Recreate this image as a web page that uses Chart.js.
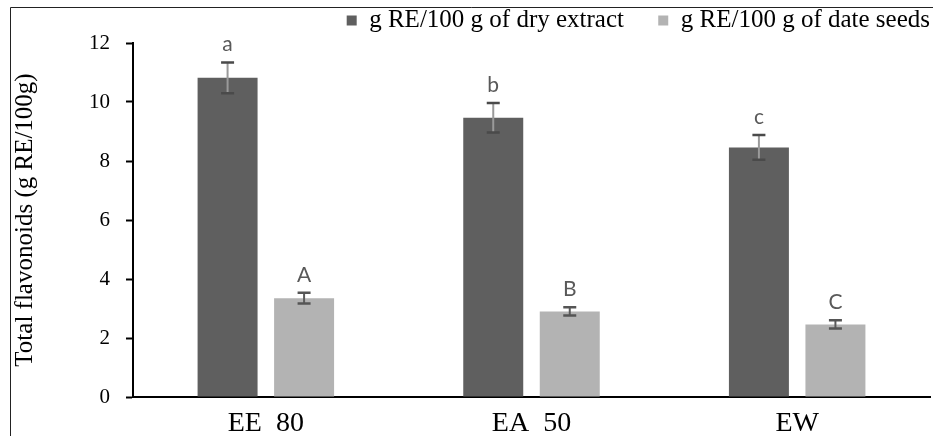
<!DOCTYPE html>
<html>
<head>
<meta charset="utf-8">
<script src="https://cdn.jsdelivr.net/npm/chart.js@4.4.1/dist/chart.umd.min.js"></script>
<style>
  html, body { margin: 0; padding: 0; background: #fff; }
  #wrap { width: 933px; height: 436px; position: relative; }
</style>
</head>
<body>
<div id="wrap"><canvas id="c" width="933" height="436"></canvas></div>
<script>
const categories = ['EE  80', 'EA  50', 'EW'];
const seriesNames = ['g RE/100 g of dry extract', 'g RE/100 g of date seeds'];
const dryExtract = [10.82, 9.47, 8.46];
const dateSeeds = [3.35, 2.90, 2.46];
const dryExtractErr = [0.52, 0.50, 0.42];
const dateSeedsErr = [0.18, 0.14, 0.14];
const dryExtractLetters = ['a', 'b', 'c'];
const dateSeedsLetters = ['A', 'B', 'C'];
const yTicks = [0, 2, 4, 6, 8, 10, 12];
const yTitle = 'Total flavonoids (g RE/100g)';

const errors = [dryExtractErr, dateSeedsErr];
const letters = [dryExtractLetters, dateSeedsLetters];
const SERIF = '"Liberation Serif", "Times New Roman", serif';

const framePlugin = {
  id: 'frame',
  beforeDraw(chart) {
    const ctx = chart.ctx;
    ctx.save();
    ctx.fillStyle = '#fff';
    ctx.fillRect(0, 0, chart.width, chart.height);
    ctx.strokeStyle = '#222';
    ctx.lineWidth = 1;
    ctx.beginPath();
    ctx.moveTo(10.5, chart.height);
    ctx.lineTo(10.5, 7.5);
    ctx.lineTo(chart.width, 7.5);
    ctx.stroke();
    ctx.restore();
  }
};

const errorPlugin = {
  id: 'errbars',
  afterDatasetsDraw(chart) {
    const ctx = chart.ctx;
    const ys = chart.scales.y;
    ctx.save();
    chart.data.datasets.forEach((ds, di) => {
      const meta = chart.getDatasetMeta(di);
      meta.data.forEach((bar, i) => {
        const v = ds.data[i];
        const e = errors[di][i];
        const x = bar.x;
        const yt = ys.getPixelForValue(v + e);
        const yb = ys.getPixelForValue(v - e);
        ctx.strokeStyle = di === 0 ? '#9a9a9a' : '#5a5a5a';
        ctx.lineWidth = 2;
        ctx.beginPath();
        ctx.moveTo(x, yt);
        ctx.lineTo(x, yb);
        ctx.stroke();
        ctx.strokeStyle = di === 0 ? '#4a4a4a' : '#555555';
        ctx.lineWidth = 2.5;
        ctx.beginPath();
        ctx.moveTo(x - 6.5, yt);
        ctx.lineTo(x + 6.5, yt);
        ctx.moveTo(x - 6.5, yb);
        ctx.lineTo(x + 6.5, yb);
        ctx.stroke();
        ctx.fillStyle = '#595959';
        ctx.font = '21px Lato, "Open Sans", sans-serif';
        ctx.textAlign = 'center';
        ctx.textBaseline = 'alphabetic';
        ctx.fillText(letters[di][i], x, yt - 11);
      });
    });
    ctx.restore();
  }
};

new Chart(document.getElementById('c'), {
  type: 'bar',
  data: {
    labels: categories,
    datasets: [
      { label: seriesNames[0], data: dryExtract, backgroundColor: '#5f5f5f',
        categoryPercentage: 0.576, barPercentage: 0.784 },
      { label: seriesNames[1], data: dateSeeds, backgroundColor: '#b3b3b3',
        categoryPercentage: 0.576, barPercentage: 0.784 }
    ]
  },
  options: {
    responsive: false,
    animation: false,
    layout: { padding: { left: 0, right: 0, top: 5, bottom: 0 } },
    plugins: {
      legend: {
        position: 'top',
        align: 'end',
        labels: {
          boxWidth: 10, boxHeight: 10, padding: 3,
          color: '#000',
          font: { family: SERIF, size: 25 },
          generateLabels(chart) {
            const items = Chart.defaults.plugins.legend.labels.generateLabels(chart);
            items.forEach((it, i) => { if (i < items.length - 1) it.text = it.text + '     '; });
            return items;
          }
        }
      },
      tooltip: { enabled: false }
    },
    scales: {
      x: {
        grid: { display: false, drawTicks: false },
        border: { display: true, color: '#000', width: 2 },
        ticks: {
          color: '#000', padding: 10,
          font: { family: SERIF, size: 28 }
        },
        afterFit(scale) { scale.height = 39; }
      },
      y: {
        min: 0, max: 12,
        afterBuildTicks(scale) { scale.ticks = yTicks.map(v => ({ value: v })); },
        grid: { display: true, drawOnChartArea: false, drawTicks: true, tickLength: 7, color: '#000', tickWidth: 2 },
        border: { display: true, color: '#000', width: 2 },
        ticks: {
          color: '#000', padding: 16,
          font: { family: SERIF, size: 21 }
        },
        title: {
          display: true, text: yTitle, color: '#000',
          padding: { top: 10, bottom: 0 },
          font: { family: SERIF, size: 25 }
        },
        afterFit(scale) { scale.width = 133; }
      },
      yRight: {
        position: 'right',
        display: true,
        grid: { display: false, drawTicks: false },
        border: { display: false },
        ticks: { display: false },
        afterFit(scale) { scale.width = 3; }
      }
    }
  },
  plugins: [framePlugin, errorPlugin]
});
</script>
</body>
</html>
